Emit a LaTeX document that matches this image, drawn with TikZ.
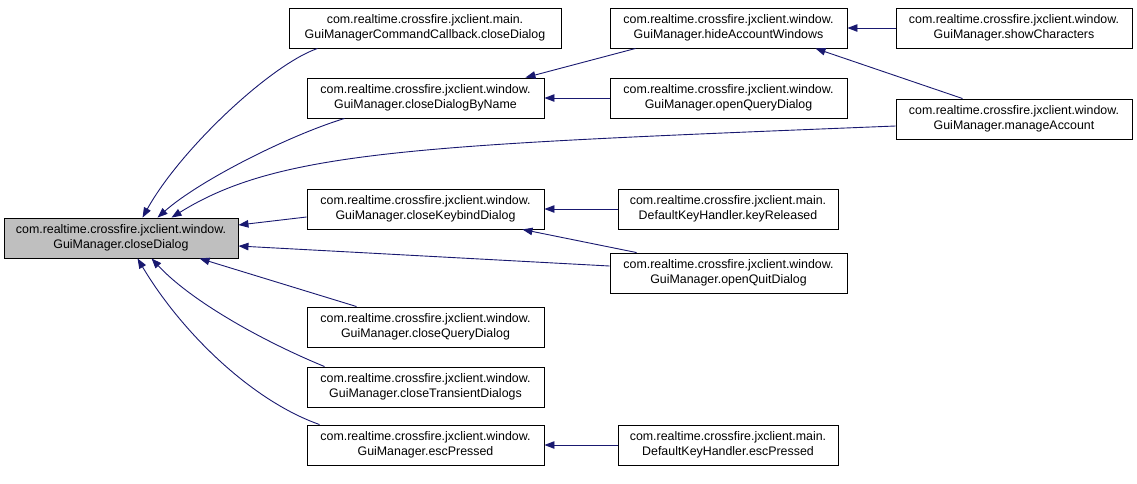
\documentclass[tikz,border=0pt]{standalone}
\usepackage{fontspec}
\setmainfont{Liberation Sans}
\usetikzlibrary{arrows.meta,calc}
\definecolor{navy}{RGB}{25,25,112}
\definecolor{rootgray}{RGB}{191,191,191}
\newcommand{\fs}{\fontsize{12.4pt}{15.5pt}\selectfont}
\tikzset{
  box/.style={draw=black, line width=0.9pt, minimum height=40pt, inner sep=0pt, align=center, font=\fs, fill=white},
  edge/.style={draw=navy, line width=0.9pt, -{Triangle[length=10pt,width=7.5pt]}}
}
\begin{document}
\begin{tikzpicture}[x=1pt,y=-1pt]
\useasboundingbox (0,0) rectangle (1137,483);
% nodes
\node[box, fill=rootgray, minimum width=234pt] (root) at (121,238) {com.realtime.crossfire.jxclient.window.\\GuiManager.closeDialog};
\node[box, minimum width=272pt] (cb) at (425,28) {com.realtime.crossfire.jxclient.main.\\GuiManagerCommandCallback.closeDialog};
\node[box, minimum width=237pt] (byname) at (425.5,98) {com.realtime.crossfire.jxclient.window.\\GuiManager.closeDialogByName};
\node[box, minimum width=237pt] (keybind) at (425.5,209) {com.realtime.crossfire.jxclient.window.\\GuiManager.closeKeybindDialog};
\node[box, minimum width=237pt] (query) at (425.5,327) {com.realtime.crossfire.jxclient.window.\\GuiManager.closeQueryDialog};
\node[box, minimum width=237pt] (transient) at (425.5,387) {com.realtime.crossfire.jxclient.window.\\GuiManager.closeTransientDialogs};
\node[box, minimum width=237pt] (esc) at (425.5,445) {com.realtime.crossfire.jxclient.window.\\GuiManager.escPressed};
\node[box, minimum width=237pt] (hide) at (728.5,28) {com.realtime.crossfire.jxclient.window.\\GuiManager.hideAccountWindows};
\node[box, minimum width=237pt] (openquery) at (728.5,98) {com.realtime.crossfire.jxclient.window.\\GuiManager.openQueryDialog};
\node[box, minimum width=220pt] (keyrel) at (728,209) {com.realtime.crossfire.jxclient.main.\\DefaultKeyHandler.keyReleased};
\node[box, minimum width=237pt] (quit) at (728.5,273) {com.realtime.crossfire.jxclient.window.\\GuiManager.openQuitDialog};
\node[box, minimum width=220pt] (dkesc) at (728,445) {com.realtime.crossfire.jxclient.main.\\DefaultKeyHandler.escPressed};
\node[box, minimum width=236pt] (show) at (1014,28) {com.realtime.crossfire.jxclient.window.\\GuiManager.showCharacters};
\node[box, minimum width=236pt] (manage) at (1014,119) {com.realtime.crossfire.jxclient.window.\\GuiManager.manageAccount};
% edges into root
\draw[edge] ($(cb.south west)+(29,0)$) .. controls (270,65) and (180,150) .. ($(root.north west)+(139,0)$);
\draw[edge] ($(byname.south west)+(38,0)$) .. controls (290,135) and (200,180) .. ($(root.north west)+(154,0)$);
\draw[edge] ($(manage.west)+(0,7)$) .. controls (420,145) and (280,150) .. ($(root.north west)+(168,0)$);
\draw[edge] ($(keybind.west)+(0,8)$) -- ($(root.east)+(0,-13)$);
\draw[edge] ($(quit.west)+(0,-7)$) -- ($(root.east)+(0,8)$);
\draw[edge] ($(query.north west)+(50,0)$) -- ($(root.south west)+(196,0)$);
\draw[edge] ($(transient.north west)+(18,0)$) .. controls (260,340) and (190,300) .. ($(root.south west)+(148,0)$);
\draw[edge] ($(esc.north west)+(13,0)$) .. controls (250,400) and (180,330) .. ($(root.south west)+(134,0)$);
% second level
\draw[edge] ($(hide.south west)+(26,0)$) -- ($(byname.north east)+(-19,0)$);
\draw[edge] (openquery.west) -- (byname.east);
\draw[edge] (show.west) -- (hide.east);
\draw[edge] ($(manage.north west)+(67,0)$) -- ($(hide.south east)+(-32,0)$);
\draw[edge] (keyrel.west) -- (keybind.east);
\draw[edge] ($(quit.north west)+(27,0)$) -- ($(keybind.south east)+(-22,0)$);
\draw[edge] (dkesc.west) -- (esc.east);
\end{tikzpicture}
\end{document}
